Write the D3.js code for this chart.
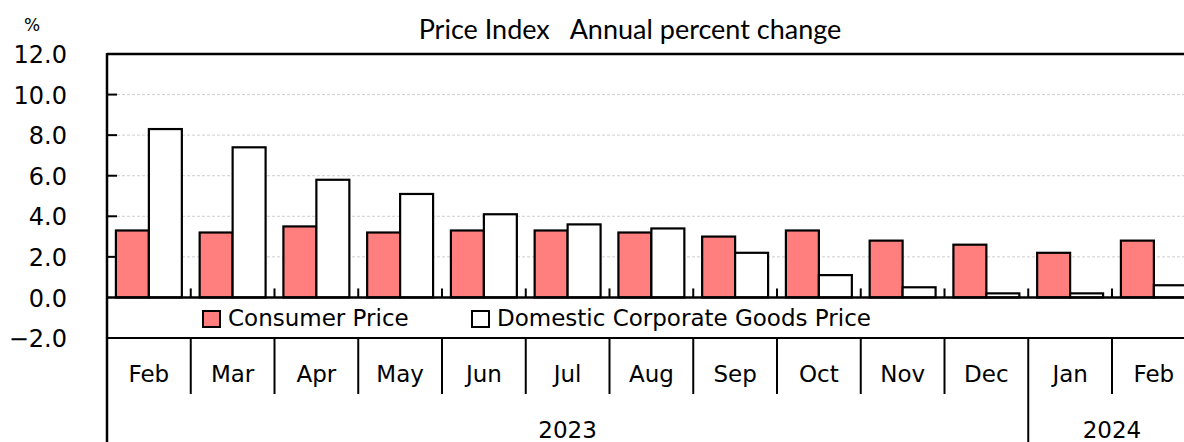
<!DOCTYPE html>
<html>
<head>
<meta charset="utf-8">
<script src="https://cdn.jsdelivr.net/npm/d3@7"></script>
<style>
  html, body { margin: 0; padding: 0; background: #fff; }
  svg { display: block; }
</style>
</head>
<body>
<svg id="chart" width="1184" height="442"></svg>
<script>
// ---- data ----
const months = ["Feb","Mar","Apr","May","Jun","Jul","Aug","Sep","Oct","Nov","Dec","Jan","Feb"];
const years = [{label:"2023", from:0, to:10}, {label:"2024", from:11, to:12}];
const consumerPrice = [3.3, 3.2, 3.5, 3.2, 3.3, 3.3, 3.2, 3.0, 3.3, 2.8, 2.6, 2.2, 2.8];
const corporateGoods = [8.3, 7.4, 5.8, 5.1, 4.1, 3.6, 3.4, 2.2, 1.1, 0.5, 0.2, 0.2, 0.6];
const seriesNames = ["Consumer Price", "Domestic Corporate Goods Price"];
const yTicks = [-2, 0, 2, 4, 6, 8, 10, 12];
const titleText = "Price Index\u00a0\u00a0\u00a0Annual percent change";

// ---- layout ----
const svg = d3.select("#chart");
const left = 107, bandW = 83.75;
const idx = months.map((m, i) => i);
const x = d3.scaleBand().domain(idx).range([left, left + bandW * months.length]).padding(0);
const x1 = d3.scaleBand().domain([0, 1]).range([0, x.bandwidth()]).paddingInner(0).paddingOuter(0.27);
const y = d3.scaleLinear().domain([-2, 12]).range([338, 54]);
const right = x.range()[1];
const fontMain = "'DejaVu Sans', Verdana, sans-serif";
const colors = ["#ff7f7f", "#ffffff"];

// gridlines
svg.append("g").selectAll("line").data(yTicks.filter(d => d > 0 && d < 12)).join("line")
  .attr("x1", left).attr("x2", right)
  .attr("y1", d => y(d)).attr("y2", d => y(d))
  .attr("stroke", "#cfcfcf").attr("stroke-width", 1).attr("stroke-dasharray", "3,2");

// bars
const data = idx.map(i => [consumerPrice[i], corporateGoods[i]]);
const g = svg.append("g");
g.selectAll("g").data(data).join("g")
  .attr("transform", (d, i) => `translate(${x(i)},0)`)
  .selectAll("rect").data(d => d.map((v, k) => ({v, k}))).join("rect")
  .attr("x", d => x1(d.k))
  .attr("width", x1.bandwidth())
  .attr("y", d => y(Math.max(0, d.v)))
  .attr("height", d => Math.abs(y(d.v) - y(0)))
  .attr("fill", d => colors[d.k])
  .attr("stroke", "#000").attr("stroke-width", 2.2);

// y axis
const yAxis = d3.axisLeft(y).tickValues(yTicks).tickSize(0).tickPadding(0).tickFormat(d3.format(".1f"));
const ya = svg.append("g").attr("transform", `translate(${left},0)`).call(yAxis);
ya.select(".domain").remove();
ya.selectAll("text").attr("x", -40).attr("dy", "0.36em")
  .style("font-family", fontMain).style("font-size", "24px").attr("fill", "#000")
  .text(d => d < 0 ? "\u2212" + d3.format(".1f")(-d) : d3.format(".1f")(d));
// inward tick marks
svg.append("g").selectAll("line").data(yTicks.filter(d => d > 0 && d < 12)).join("line")
  .attr("x1", left).attr("x2", left + 10)
  .attr("y1", d => y(d)).attr("y2", d => y(d))
  .attr("stroke", "#000").attr("stroke-width", 2);

// frame lines
svg.append("line").attr("x1", left).attr("x2", right).attr("y1", y(12)).attr("y2", y(12))
  .attr("stroke", "#000").attr("stroke-width", 2.5);
svg.append("line").attr("x1", left).attr("x2", right).attr("y1", y(0)).attr("y2", y(0))
  .attr("stroke", "#000").attr("stroke-width", 2.5);
svg.append("line").attr("x1", left).attr("x2", right).attr("y1", y(-2)).attr("y2", y(-2))
  .attr("stroke", "#000").attr("stroke-width", 2);
svg.append("line").attr("x1", left).attr("x2", left).attr("y1", y(12) - 1).attr("y2", 442)
  .attr("stroke", "#000").attr("stroke-width", 2.5);

// small ticks on zero line at category boundaries
svg.append("g").selectAll("line").data(idx.slice(1)).join("line")
  .attr("x1", i => x(i)).attr("x2", i => x(i))
  .attr("y1", y(0) - 9).attr("y2", y(0))
  .attr("stroke", "#000").attr("stroke-width", 2);

// month row
const rowTop = y(-2), monthBottom = 394, yearBottom = 442;
svg.append("g").selectAll("line").data(idx.slice(1)).join("line")
  .attr("x1", i => x(i)).attr("x2", i => x(i))
  .attr("y1", rowTop).attr("y2", i => years.some(yr => yr.from === i) ? yearBottom : monthBottom)
  .attr("stroke", "#000").attr("stroke-width", 2);
svg.append("g").selectAll("text").data(idx).join("text")
  .attr("x", i => x(i) + x.bandwidth() / 2).attr("y", 374).attr("dy", "0.36em")
  .attr("text-anchor", "middle")
  .style("font-family", fontMain).style("font-size", "23px")
  .text(i => months[i]);
svg.append("g").selectAll("text").data(years).join("text")
  .attr("x", d => (x(d.from) + x(d.to) + x.bandwidth()) / 2).attr("y", 430).attr("dy", "0.36em")
  .attr("text-anchor", "middle")
  .style("font-family", fontMain).style("font-size", "23px")
  .text(d => d.label);

// legend
const legend = [{name: seriesNames[0], x: 203, c: colors[0]}, {name: seriesNames[1], x: 472, c: colors[1]}];
const lg = svg.append("g").selectAll("g").data(legend).join("g")
  .attr("transform", d => `translate(${d.x},311)`);
lg.append("rect").attr("width", 17).attr("height", 16)
  .attr("fill", d => d.c).attr("stroke", "#000").attr("stroke-width", 2);
lg.append("text").attr("x", 25).attr("y", 7).attr("dy", "0.36em")
  .style("font-family", fontMain).style("font-size", "23px")
  .text(d => d.name);

// title and unit
svg.append("text").attr("x", 630).attr("y", 29).attr("dy", "0.36em").attr("text-anchor", "middle")
  .style("font-family", "Lato, 'Open Sans', sans-serif").style("font-size", "27px")
  .text(titleText);
svg.append("text").attr("x", 32).attr("y", 25).attr("dy", "0.36em").attr("text-anchor", "middle")
  .style("font-family", fontMain).style("font-size", "17px")
  .text("%");
</script>
</body>
</html>
